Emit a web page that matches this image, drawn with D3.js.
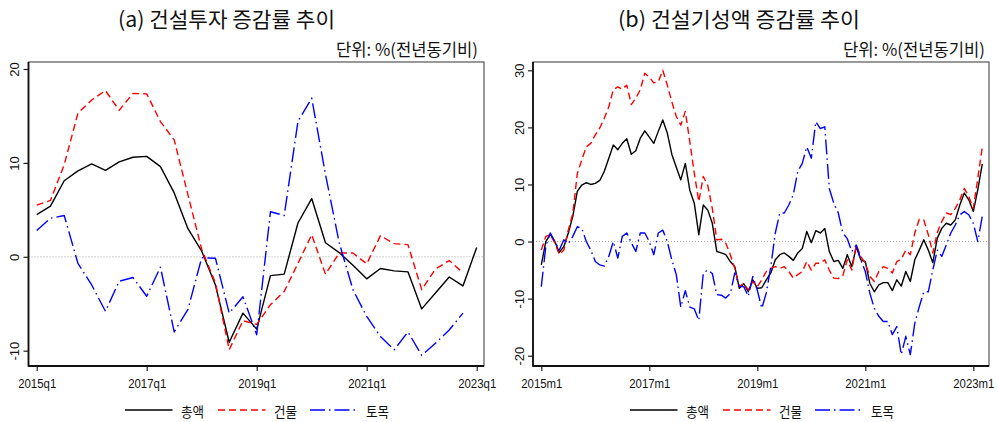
<!DOCTYPE html>
<html><head><meta charset="utf-8">
<script src="https://cdn.jsdelivr.net/npm/d3@7"></script>
<style>
html,body{margin:0;padding:0;background:#fff;}
svg{display:block;}
</style></head>
<body>
<svg id="chart" width="998" height="422"></svg>
<script>
// ---------- DATA ----------
const seriesNames = ["총액", "건물", "토목"];
const titleA = "(a) 건설투자 증감률 추이";
const titleB = "(b) 건설기성액 증감률 추이";
const unitText = "단위: %(전년동기비)";

// (a) quarterly, 2015q1 .. 2023q1 (index 0..32)
const qTickIdx = [0, 8, 16, 24, 32];
const qTickLabels = ["2015q1", "2017q1", "2019q1", "2021q1", "2023q1"];
const qYTicks = [-10, 0, 10, 20];
const qTotal = [4.5, 5.4, 8.1, 9.15, 9.9, 9.2, 10.1, 10.6, 10.7, 9.6, 6.8, 3.0, 0.6, -3.0, -9.1, -6.0, -7.7, -2.0, -1.85, 3.6, 6.2, 1.5, 0.45, -0.9, -2.35, -1.25, -1.5, -1.6, -5.55, -3.85, -2.15, -3.1, 1.0];
const qBuilding = [5.5, 6.0, 9.8, 15.3, 16.7, 17.7, 15.6, 17.4, 17.35, 14.4, 12.45, 6.6, 0.8, -2.8, -9.9, -6.8, -7.2, -5.1, -3.7, -0.7, 2.35, -1.85, 0.4, 0.4, -0.75, 2.25, 1.4, 1.3, -3.5, -1.3, -0.4, -1.7];
const qCivil = [2.8, 4.1, 4.4, -0.7, -3.0, -5.8, -2.6, -2.2, -4.2, -1.1, -8.0, -5.6, -0.1, -0.15, -6.0, -4.25, -8.3, 4.8, 4.4, 14.4, 16.9, 8.8, 1.5, -3.5, -6.35, -8.5, -9.9, -8.0, -10.5, -9.2, -7.8, -6.0];

// (b) monthly, 2015m1 .. 2023m3 (index 0..98)
const mTickIdx = [0, 24, 48, 72, 96];
const mTickLabels = ["2015m1", "2017m1", "2019m1", "2021m1", "2023m1"];
const mYTicks = [-20, -10, 0, 10, 20, 30];
const mTotal = [-4.1, 0.0, 1.3, 0.0, -1.9, -0.9, 1.5, 4.4, 8.8, 9.9,
  10.3, 10.0, 10.2, 10.7, 12.3, 14.6, 16.9, 16.1, 17.2, 18.0,
  15.3, 15.9, 18.1, 19.4, 18.3, 17.2, 19.3, 21.3, 19.0, 15.3,
  13.0, 10.8, 13.7, 9.0, 6.7, 1.2, 6.4, 5.5, 3.2, -1.75,
  -2.0, -2.3, -3.5, -4.4, -8.2, -7.4, -8.8, -6.7, -8.2, -8.1,
  -6.7, -5.5, -3.2, -2.3, -2.0, -2.6, -3.3, -2.0, -1.2, 1.75,
  -0.2, 1.9, 1.5, 2.3, -1.75, -3.5, -3.3, -4.7, -2.3, -4.4,
  -0.9, -3.2, -3.5, -7.3, -8.8, -7.6, -7.2, -7.2, -8.6, -6.7,
  -7.8, -5.25, -7.0, -3.2, -1.5, 0.3, -1.5, -3.7, 0.6, 2.3,
  3.2, 2.9, 3.8, 6.4, 8.5, 7.3, 5.25, 9.1, 13.6];
const mBuilding = [-1.5, 0.9, 1.2, -0.2, -2.3, -1.5, 2.0, 4.9, 11.9, 14.3,
  16.6, 17.2, 18.7, 19.9, 21.6, 23.6, 26.6, 27.1, 26.7, 27.4,
  24.0, 25.1, 26.6, 29.5, 28.8, 27.8, 28.0, 30.0, 27.4, 24.5,
  21.9, 20.4, 22.8, 17.5, 12.0, 7.0, 11.4, 9.8, 5.8, 0.3,
  0.4, -0.3, -2.3, -4.7, -7.9, -7.3, -8.5, -7.0, -7.9, -6.7,
  -5.25, -4.7, -4.4, -4.7, -4.4, -5.25, -6.4, -5.8, -5.25, -3.5,
  -5.0, -3.8, -3.8, -3.2, -5.0, -6.4, -6.5, -6.0, -3.2, -5.0,
  -0.6, -2.6, -3.8, -6.1, -7.0, -5.25, -4.4, -4.7, -5.5, -3.5,
  -3.1, -1.5, -2.3, 1.5, 3.9, 3.8, 1.2, -2.0, 1.6, 3.5,
  5.0, 4.7, 5.8, 7.3, 9.3, 7.9, 5.8, 11.1, 16.6];
const mCivil = [-7.9, -0.9, 1.5, 0.0, -1.5, 0.3, -0.4, 0.9, 2.6, 2.3,
  0.0, -1.5, -3.5, -4.1, -4.3, -2.6, 0.0, -2.9, 0.9, 1.5,
  -0.2, -1.75, 1.5, 1.5, 0.0, -2.3, 1.5, 2.0, 0.0, -3.2,
  -5.8, -11.5, -8.6, -11.5, -11.8, -13.8, -5.5, -5.0, -5.6, -9.3,
  -9.4, -9.9, -9.1, -5.5, -7.9, -7.9, -9.6, -6.1, -8.5, -11.7,
  -9.0, -4.4, 1.5, 5.0, 5.0, 6.4, 8.2, 12.3, 13.7, 16.6,
  14.6, 21.0, 19.8, 20.1, 9.3, 6.7, 5.0, 1.5, 0.5, -1.75,
  -0.6, -3.2, -5.25, -9.0, -11.7, -13.1, -14.0, -14.0, -16.3, -14.9,
  -19.8, -16.6, -19.8, -14.3, -11.4, -8.8, -8.8, -5.0, -1.5, -2.6,
  -0.6, 1.5, 2.9, 4.7, 5.25, 4.7, 3.2, 0.0, 4.4];

// ---------- STYLE ----------
const seriesStyle = [
  {color: "#000000", dash: null},
  {color: "#ff0000", dash: "7,4"},
  {color: "#0000ff", dash: "15,4,1.5,4"}
];
const KFONT = "'Noto Sans CJK KR','Noto Sans',sans-serif";
const NFONT = "'Liberation Sans',Arial,sans-serif";

const svg = d3.select("#chart");

function panel(cfg) {
  const {box, xDomain, xRange, yDomain, yRange, xTicks, xLabels, yTicks, series, title, titleX, titleW, unitRight, legendX} = cfg;
  const x = d3.scaleLinear().domain(xDomain).range(xRange);
  const y = d3.scaleLinear().domain(yDomain).range(yRange);
  const g = svg.append("g");

  // plot region border
  g.append("rect").attr("x", box.l).attr("y", box.t)
    .attr("width", box.r - box.l).attr("height", box.b - box.t)
    .attr("fill", "none").attr("stroke", "#555").attr("stroke-width", 1.2);

  // zero reference line
  g.append("line").attr("x1", box.l).attr("x2", box.r)
    .attr("y1", y(0)).attr("y2", y(0))
    .attr("stroke", "#aaaaaa").attr("stroke-width", 1).attr("stroke-dasharray", "1,2");

  // series lines
  const line = d3.line().x((d, i) => x(i)).y(d => y(d));
  series.forEach((s, k) => {
    const st = seriesStyle[k];
    g.append("path").datum(s).attr("d", line)
      .attr("fill", "none").attr("stroke", st.color).attr("stroke-width", 1.4)
      .attr("stroke-linejoin", "round")
      .attr("stroke-dasharray", st.dash);
  });

  // y axis
  const ya = g.append("g").attr("transform", `translate(${box.l},0)`)
    .call(d3.axisLeft(y).tickValues(yTicks).tickSize(5).tickFormat(d => String(d)));
  ya.select(".domain").remove();
  ya.selectAll(".tick line").attr("stroke", "#222").attr("stroke-width", 1.2);
  ya.selectAll(".tick text")
    .attr("x", 0).attr("y", -9.5).attr("dy", 0)
    .attr("text-anchor", "middle").attr("transform", "rotate(-90)")
    .attr("fill", "#111").style("font-family", NFONT).style("font-size", "13px");

  // x axis
  const xa = g.append("g").attr("transform", `translate(0,${box.b})`)
    .call(d3.axisBottom(x).tickValues(xTicks).tickSize(5).tickFormat((d, i) => xLabels[i]));
  xa.select(".domain").remove();
  xa.selectAll(".tick line").attr("stroke", "#222").attr("stroke-width", 1.2);
  xa.selectAll(".tick text")
    .attr("y", 13).attr("fill", "#111")
    .style("font-family", NFONT).style("font-size", "12px")
    .each(function() {
      const w = this.getComputedTextLength();
      d3.select(this).attr("textLength", w * 0.95).attr("lengthAdjust", "spacingAndGlyphs");
    });

  // axis lines
  g.append("line").attr("x1", box.l).attr("x2", box.l).attr("y1", box.t).attr("y2", box.b + 0.8)
    .attr("stroke", "#111").attr("stroke-width", 1.8);
  g.append("line").attr("x1", box.l).attr("x2", box.r).attr("y1", box.b).attr("y2", box.b)
    .attr("stroke", "#111").attr("stroke-width", 1.8);

  // title
  g.append("text").attr("x", titleX).attr("y", 27).attr("text-anchor", "middle")
    .attr("textLength", titleW).attr("lengthAdjust", "spacingAndGlyphs")
    .style("font-family", KFONT).style("font-size", "21px").attr("fill", "#111").text(title);
  // unit
  g.append("text").attr("x", unitRight).attr("y", 56).attr("text-anchor", "end")
    .attr("textLength", 142).attr("lengthAdjust", "spacingAndGlyphs")
    .style("font-family", KFONT).style("font-size", "17px").attr("fill", "#111").text(unitText);

  // legend
  const legOff = [0, 93, 185];
  seriesNames.forEach((nm, k) => {
    const lx = legendX + legOff[k];
    const st = seriesStyle[k];
    g.append("line").attr("x1", lx).attr("x2", lx + 47.5).attr("y1", 410).attr("y2", 410)
      .attr("stroke", st.color).attr("stroke-width", 1.4).attr("stroke-dasharray", st.dash);
    g.append("text").attr("x", lx + 56).attr("y", 416.5)
      .attr("textLength", 23).attr("lengthAdjust", "spacingAndGlyphs")
      .style("font-family", KFONT).style("font-size", "14px").attr("fill", "#111").text(nm);
  });
}

panel({
  box: {l: 28.5, r: 484, t: 62, b: 366},
  xDomain: [0, 32], xRange: [36.7, 476.7],
  yDomain: [-10, 20], yRange: [350.7, 69],
  xTicks: qTickIdx, xLabels: qTickLabels, yTicks: qYTicks,
  series: [qTotal, qBuilding, qCivil],
  title: titleA, titleX: 226.5, titleW: 217, unitRight: 478,
  legendX: 125
});

panel({
  box: {l: 533, r: 989, t: 62, b: 366},
  xDomain: [0, 96], xRange: [541.3, 973.3],
  yDomain: [-20, 30], yRange: [355.7, 70.3],
  xTicks: mTickIdx, xLabels: mTickLabels, yTicks: mYTicks,
  series: [mTotal, mBuilding, mCivil],
  title: titleB, titleX: 739, titleW: 242, unitRight: 985,
  legendX: 630
});
</script>
</body></html>
